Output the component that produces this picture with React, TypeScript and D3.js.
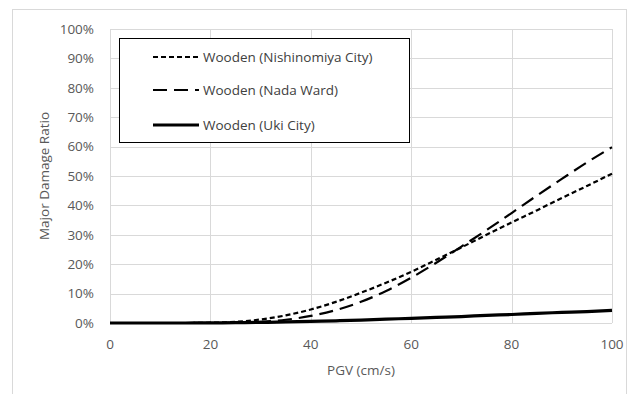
import React, { useEffect, useRef } from 'react';
import * as d3 from 'd3';

// PGV (cm/s) sample points shared by all three curves
const pgv = [0, 5, 10, 15, 20, 25, 30, 35, 40, 45, 50, 55, 60, 65, 70, 75, 80, 85, 90, 95, 100];

// major damage ratio, percent
const nishinomiya = [0, 0, 0, 0, 0.1, 0.4, 1.2, 2.6, 4.6, 7.2, 10.3, 13.7, 17.4, 21.5, 25.7, 30.0, 34.2, 38.3, 42.5, 46.6, 50.8];
const nada = [0, 0, 0, 0, 0, 0.1, 0.4, 1.1, 2.4, 4.4, 7.2, 10.9, 15.4, 20.5, 26.0, 31.6, 37.4, 43.3, 49.0, 54.6, 59.8];
const uki = [0, 0, 0, 0, 0.05, 0.1, 0.2, 0.35, 0.55, 0.75, 1.0, 1.3, 1.6, 1.9, 2.2, 2.6, 2.9, 3.3, 3.6, 3.9, 4.3];

const seriesNames = ['Wooden (Nishinomiya City)', 'Wooden (Nada Ward)', 'Wooden (Uki City)'];
const xTicks = [0, 20, 40, 60, 80, 100];
const yTicks = [0, 10, 20, 30, 40, 50, 60, 70, 80, 90, 100];

const W = 628, H = 394;
const FONT = '"Open Sans", "Liberation Sans", sans-serif';
const GREY = '#595959';
const FS = 13.5;

export default function App() {
  const ref = useRef<SVGSVGElement>(null);

  useEffect(() => {
    const svg = d3.select(ref.current);
    svg.selectAll('*').remove();

    const x = d3.scaleLinear().domain([0, 100]).range([110, 612]);
    const y = d3.scaleLinear().domain([0, 100]).range([323, 29]);

    svg.append('rect').attr('width', W).attr('height', H).attr('fill', '#fff');
    // outer chart frame (cropped at right/bottom)
    svg.append('rect').attr('x', 12.5).attr('y', 9.5).attr('width', 614).attr('height', 400)
      .attr('fill', 'none').attr('stroke', '#d9d9d9');

    // grid
    const g = svg.append('g');
    g.selectAll('.hg').data(yTicks).enter().append('line')
      .attr('x1', x(0)).attr('x2', x(100))
      .attr('y1', d => Math.round(y(d)) + 0.5).attr('y2', d => Math.round(y(d)) + 0.5)
      .attr('stroke', '#d9d9d9').attr('stroke-width', 1);
    g.selectAll('.vg').data(xTicks).enter().append('line')
      .attr('y1', y(0)).attr('y2', y(100))
      .attr('x1', d => Math.round(x(d)) + 0.5).attr('x2', d => Math.round(x(d)) + 0.5)
      .attr('stroke', '#d9d9d9').attr('stroke-width', 1);

    // tick labels
    g.selectAll('.yl').data(yTicks).enter().append('text')
      .attr('x', 94).attr('y', d => y(d)).attr('dy', '0.35em')
      .attr('text-anchor', 'end').attr('font-family', FONT).attr('font-size', FS)
      .attr('fill', GREY).text(d => `${d}%`);
    g.selectAll('.xl').data(xTicks).enter().append('text')
      .attr('x', d => x(d)).attr('y', 349)
      .attr('text-anchor', 'middle').attr('font-family', FONT).attr('font-size', FS)
      .attr('fill', GREY).text(d => `${d}`);

    // axis titles
    svg.append('text').attr('x', 361).attr('y', 375).attr('text-anchor', 'middle')
      .attr('font-family', FONT).attr('font-size', FS).attr('fill', GREY).text('PGV (cm/s)');
    svg.append('text').attr('transform', 'translate(49,176) rotate(-90)').attr('text-anchor', 'middle')
      .attr('font-family', FONT).attr('font-size', FS).attr('fill', GREY).text('Major Damage Ratio');

    const styles = [
      { data: nishinomiya, dash: '5,3', w: 2.2 },
      { data: nada, dash: '14,7', w: 2.2 },
      { data: uki, dash: null, w: 3.2 },
    ];

    const line = d3.line<[number, number]>().x(d => x(d[0])).y(d => y(d[1])).curve(d3.curveMonotoneX);
    styles.forEach(s => {
      const p = svg.append('path')
        .datum(pgv.map((v, i) => [v, s.data[i]] as [number, number]))
        .attr('d', line).attr('fill', 'none').attr('stroke', '#000').attr('stroke-width', s.w);
      if (s.dash) p.attr('stroke-dasharray', s.dash);
    });

    // legend
    const lg = svg.append('g');
    lg.append('rect').attr('x', 119.5).attr('y', 38.5).attr('width', 290).attr('height', 104)
      .attr('fill', '#fff').attr('stroke', '#000').attr('stroke-width', 1);
    const rows = [57, 90, 125];
    styles.forEach((s, i) => {
      const l = lg.append('line').attr('x1', 153).attr('x2', 199).attr('y1', rows[i]).attr('y2', rows[i])
        .attr('stroke', '#000').attr('stroke-width', s.w);
      if (s.dash) l.attr('stroke-dasharray', s.dash);
      lg.append('text').attr('x', 203).attr('y', rows[i]).attr('dy', '0.35em')
        .attr('font-family', FONT).attr('font-size', FS).attr('fill', '#404040').text(seriesNames[i]);
    });
  }, []);

  return (
    <svg ref={ref} width={W} height={H} style={{ position: 'absolute', left: 0, top: 0 }} />
  );
}
